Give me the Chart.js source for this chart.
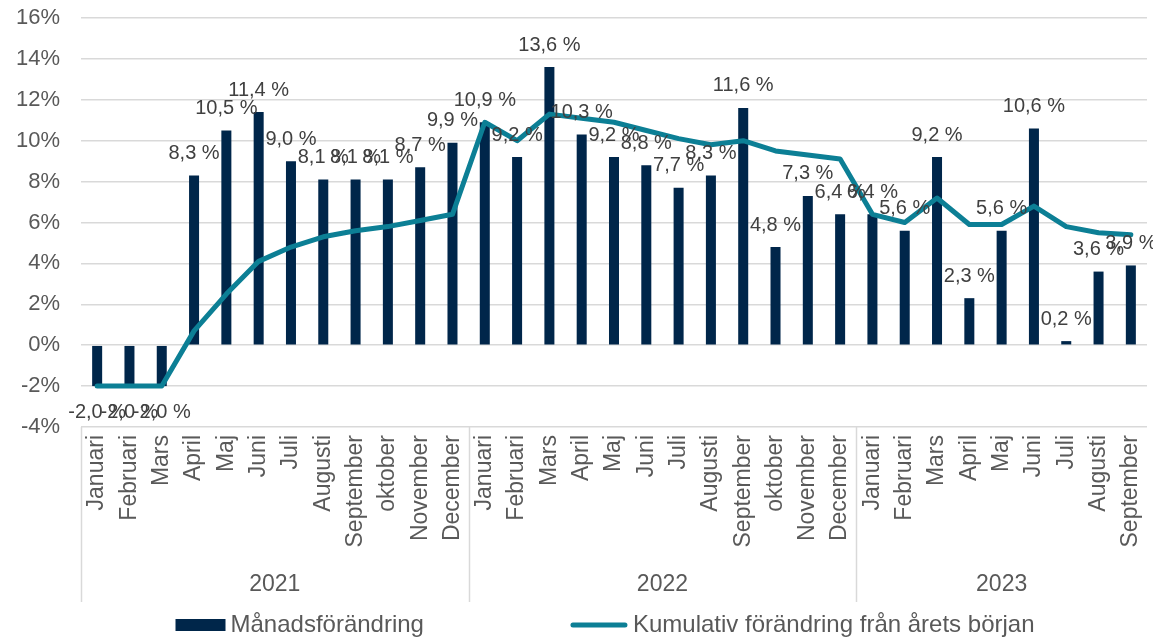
<!DOCTYPE html>
<html>
<head>
<meta charset="utf-8">
<script src="https://cdn.jsdelivr.net/npm/chart.js@4/dist/chart.umd.min.js"></script>
<style>
  body { margin: 0; background: #fff; }
  canvas { display: block; }
</style>
</head>
<body>
<canvas id="chart" width="1153" height="637"></canvas>
<script>
// month labels per year group
const months2021 = ['Januari', 'Februari', 'Mars', 'April', 'Maj', 'Juni', 'Juli', 'Augusti', 'September', 'oktober', 'November', 'December'];
const months2022 = ['Januari', 'Februari', 'Mars', 'April', 'Maj', 'Juni', 'Juli', 'Augusti', 'September', 'oktober', 'November', 'December'];
const months2023 = ['Januari', 'Februari', 'Mars', 'April', 'Maj', 'Juni', 'Juli', 'Augusti', 'September'];
const years = ['2021', '2022', '2023'];

// Månadsförändring (%)
const monthly = [
  -2.0, -2.0, -2.0, 8.3, 10.5, 11.4, 9.0, 8.1, 8.1, 8.1, 8.7, 9.9,
  10.9, 9.2, 13.6, 10.3, 9.2, 8.8, 7.7, 8.3, 11.6, 4.8, 7.3, 6.4,
  6.4, 5.6, 9.2, 2.3, 5.6, 10.6, 0.2, 3.6, 3.9
];
// Kumulativ förändring från årets början (%)
const cumulative = [
  -2.0, -2.0, -2.0, 0.7, 2.5, 4.1, 4.8, 5.3, 5.6, 5.8, 6.1, 6.4,
  10.9, 10.0, 11.3, 11.1, 10.9, 10.5, 10.1, 9.8, 10.0, 9.5, 9.3, 9.1,
  6.4, 6.0, 7.2, 5.9, 5.9, 6.8, 5.8, 5.5, 5.4
];

const yearGroups = [months2021, months2022, months2023];
const labels = [].concat(...yearGroups);

const FONT = '"Liberation Sans", Arial, sans-serif';
const NAVY = '#00264a';
const TEAL = '#0c7f95';
const GRID = '#d9d9d9';

Chart.defaults.font.family = FONT;

const decor = {
  id: 'decor',
  afterDatasetsDraw(chart) {
    // value labels on the bars
    const ctx = chart.ctx;
    const meta = chart.getDatasetMeta(0);
    ctx.save();
    ctx.font = '20px ' + FONT;
    ctx.fillStyle = '#404040';
    ctx.textAlign = 'center';
    ctx.textBaseline = 'middle';
    meta.data.forEach((bar, i) => {
      const v = monthly[i];
      const y = v >= 0 ? bar.y - 22 : bar.y + 26;
      ctx.fillText(v.toFixed(1).replace('.', ',') + ' %', bar.x, y);
    });
    ctx.restore();
  },
  afterDraw(chart) {
    const ctx = chart.ctx;
    const area = chart.chartArea;
    const x = chart.scales.x;
    const bottom = area.bottom + 175;

    ctx.save();
    // year group separators and labels
    ctx.strokeStyle = GRID;
    ctx.lineWidth = 1.5;
    ctx.font = '23px ' + FONT;
    ctx.fillStyle = '#595959';
    ctx.textAlign = 'center';
    ctx.textBaseline = 'middle';
    let start = 0;
    yearGroups.forEach((g, k) => {
      const end = start + g.length - 1;
      const left = k === 0 ? area.left : (x.getPixelForValue(start - 1) + x.getPixelForValue(start)) / 2;
      const right = k === yearGroups.length - 1 ? area.right : (x.getPixelForValue(end) + x.getPixelForValue(end + 1)) / 2;
      ctx.beginPath();
      ctx.moveTo(Math.round(left) + 0.5, area.bottom);
      ctx.lineTo(Math.round(left) + 0.5, bottom);
      ctx.stroke();
      ctx.fillText(years[k], (left + right) / 2, area.bottom + 158);
      start += g.length;
    });

    // legend
    const items = chart.data.datasets.map(ds => ({ label: ds.label, type: ds.type || 'bar', color: ds.type === 'line' ? ds.borderColor : ds.backgroundColor }));
    ctx.font = '24px ' + FONT;
    const gap = 5, between = 146;
    const sw = items.map(it => it.type === 'line' ? 58 : 50);
    const widths = items.map((it, i) => sw[i] + gap + ctx.measureText(it.label).width);
    const total = widths.reduce((a, b) => a + b, 0) + between * (items.length - 1);
    let lx = (area.left + area.right) / 2 - 9 - total / 2;
    const ly = 625;
    ctx.textAlign = 'left';
    items.forEach((it, i) => {
      if (it.type === 'line') {
        ctx.strokeStyle = it.color;
        ctx.lineWidth = 5;
        ctx.lineCap = 'round';
        ctx.beginPath();
        ctx.moveTo(lx + 3, ly);
        ctx.lineTo(lx + sw[i] - 3, ly);
        ctx.stroke();
      } else {
        ctx.fillStyle = it.color;
        ctx.fillRect(lx, ly - 6, sw[i], 12);
      }
      ctx.fillStyle = '#595959';
      ctx.fillText(it.label, lx + sw[i] + gap, ly);
      lx += widths[i] + between;
    });
    ctx.restore();
  }
};

new Chart(document.getElementById('chart').getContext('2d'), {
  data: {
    labels: labels,
    datasets: [
      {
        type: 'bar',
        label: 'Månadsförändring',
        data: monthly,
        backgroundColor: NAVY,
        barPercentage: 0.31,
        categoryPercentage: 1,
        order: 2,
      },
      {
        type: 'line',
        label: 'Kumulativ förändring från årets början',
        data: cumulative,
        borderColor: TEAL,
        backgroundColor: TEAL,
        borderWidth: 5,
        borderJoinStyle: 'round',
        borderCapStyle: 'round',
        pointRadius: 0,
        tension: 0,
        order: 1,
      },
    ],
  },
  options: {
    responsive: false,
    animation: false,
    layout: { padding: { top: 18, right: 6, bottom: 35, left: 0 } },
    plugins: {
      legend: { display: false },
      tooltip: { enabled: false },
    },
    scales: {
      x: {
        offset: true,
        grid: { display: true, drawOnChartArea: false, drawTicks: true, tickLength: 8, tickColor: 'rgba(0,0,0,0)', color: 'rgba(0,0,0,0)' },
        border: { display: false },
        ticks: {
          autoSkip: false,
          minRotation: 90,
          maxRotation: 90,
          padding: 0,
          color: '#595959',
          font: { size: 23 },
        },
        afterFit: scale => {
          scale.height = 175;
          scale.paddingLeft = 0;
          scale.paddingRight = 0;
        },
      },
      y: {
        min: -4,
        max: 16,
        ticks: {
          stepSize: 2,
          padding: 3,
          color: '#595959',
          font: { size: 22 },
          callback: v => v + '%',
        },
        grid: { color: GRID, lineWidth: 1.5, drawTicks: true, tickLength: 18, tickColor: 'rgba(0,0,0,0)' },
        border: { display: false },
        afterFit: scale => { scale.width = 81; },
      },
    },
  },
  plugins: [decor],
});
</script>
</body>
</html>
